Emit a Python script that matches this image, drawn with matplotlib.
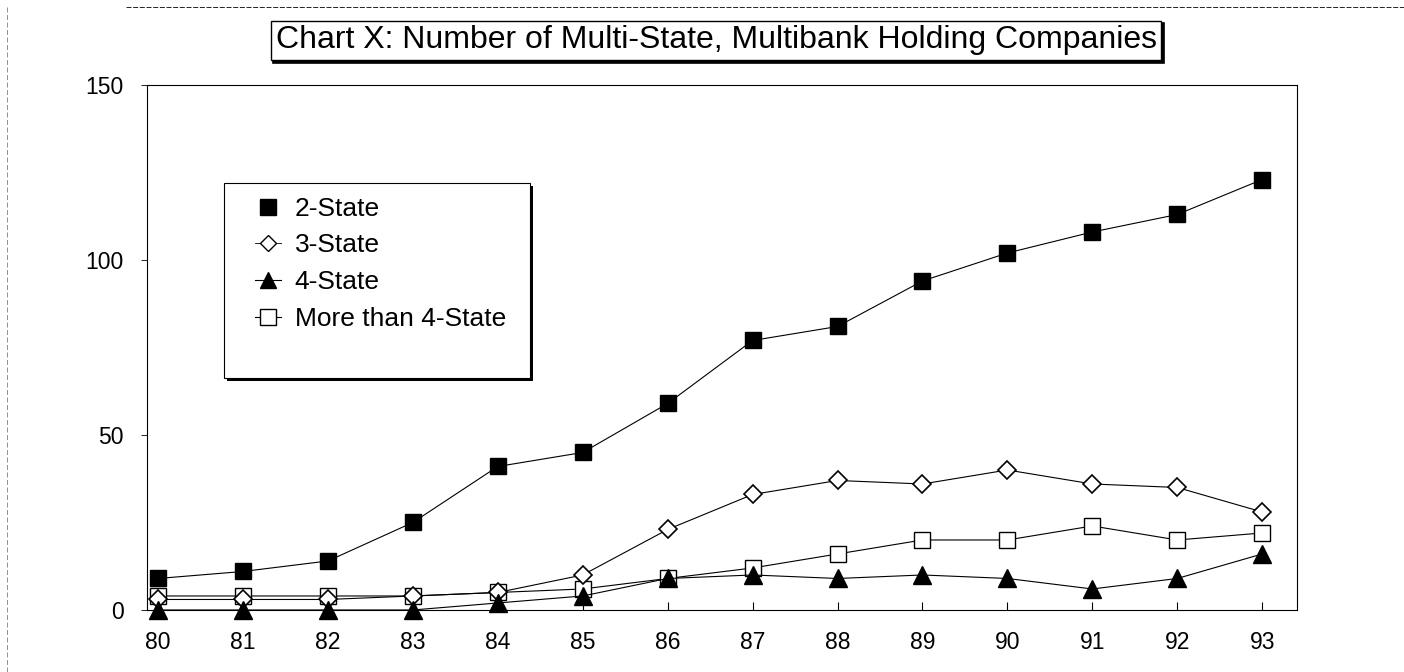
import matplotlib.pyplot as plt
import matplotlib.transforms as mtransforms
from matplotlib.lines import Line2D
from matplotlib.patches import Rectangle

plt.rcParams["font.family"] = ["Liberation Sans", "DejaVu Sans"]

years = list(range(80, 94))
year_labels = [str(y) for y in years]
two_state = [9, 11, 14, 25, 41, 45, 59, 77, 81, 94, 102, 108, 113, 123]
more_than_four = [4, 4, 4, 4, 5, 6, 9, 12, 16, 20, 20, 24, 20, 22]
three_state = [3, 3, 3, 4, 5, 10, 23, 33, 37, 36, 40, 36, 35, 28]
four_state = [0, 0, 0, 0, 2, 4, 9, 10, 9, 10, 9, 6, 9, 16]

fig = plt.figure(figsize=(14.04, 6.72), dpi=100)
ax = fig.add_axes([0.1047, 0.0923, 0.8191, 0.7812])

line_kw = dict(color="black", lw=0.8, clip_on=False)
ax.plot(years, two_state, marker="s", ms=11.5, mfc="black", mec="black",
        label="2-State", **line_kw)
ax.plot(years, more_than_four, marker="s", ms=12, mfc="white", mec="black",
        mew=1.0, label="More than 4-State", **line_kw)
ax.plot(years, three_state, marker="D", ms=9, mfc="white", mec="black",
        mew=1.2, label="3-State", **line_kw)
ax.plot(years, four_state, marker="^", ms=12.5, mfc="black", mec="black",
        label="4-State", **line_kw)

ax.set_xlim(79.87, 93.41)
ax.set_ylim(0, 150)
ax.set_xticks(years)
ax.set_xticklabels(year_labels)
ax.set_yticks([0, 50, 100, 150])
ax.tick_params(axis="x", direction="in", length=6, width=0.8, labelsize=16.5, pad=15)
ax.tick_params(axis="y", direction="out", length=4, width=0.6, labelsize=16.5, pad=13)
for s in ax.spines.values():
    s.set_linewidth(0.8)

# legend box with a hard shadow
shadow = mtransforms.offset_copy(ax.transAxes, fig=fig, x=3, y=-3, units="dots")
ax.add_patch(Rectangle((0.067, 0.442), 0.266, 0.371, transform=shadow,
                       fc="black", ec="black", lw=0, zorder=4, clip_on=False))
ax.add_patch(Rectangle((0.067, 0.442), 0.266, 0.371, transform=ax.transAxes,
                       fc="white", ec="black", lw=0.8, zorder=5, clip_on=False))

handles = [
    Line2D([], [], ls="none", marker="s", ms=11, mfc="black", mec="black"),
    Line2D([], [], color="black", lw=0.6, marker="D", ms=8, mfc="white", mec="black"),
    Line2D([], [], color="black", lw=0.8, marker="^", ms=12, mfc="black", mec="black"),
    Line2D([], [], color="black", lw=0.8, marker="s", ms=12, mfc="white", mec="black"),
]
labels = ["2-State", "3-State", "4-State", "More than 4-State"]
leg = ax.legend(handles, labels, loc="upper left", bbox_to_anchor=(0.094, 0.787),
                fontsize=19, frameon=False, handlelength=1.0, handletextpad=0.5,
                labelspacing=0.48, borderpad=0, borderaxespad=0)
leg.set_zorder(6)

title = "Chart X: Number of Multi-State, Multibank Holding Companies"
tshadow = mtransforms.offset_copy(fig.transFigure, fig=fig, x=2.5, y=-2.5, units="dots")
fig.text(0.51, 0.94, title, ha="center", va="center", fontsize=23, color="none",
         transform=tshadow,
         bbox=dict(boxstyle="square,pad=0.15", fc="black", ec="black", lw=1.2))
fig.text(0.51, 0.94, title, ha="center", va="center", fontsize=23,
         bbox=dict(boxstyle="square,pad=0.15", fc="white", ec="black", lw=1.0))

# scan border lines
fig.add_artist(Line2D([0.09, 1.0], [0.99, 0.99], color="black", lw=0.6, ls=(0, (6, 2))))
fig.add_artist(Line2D([0.005, 0.005], [0.0, 0.99], color="gray", lw=0.6, ls=(0, (6, 3))))

fig.savefig("out.png", dpi=100)
